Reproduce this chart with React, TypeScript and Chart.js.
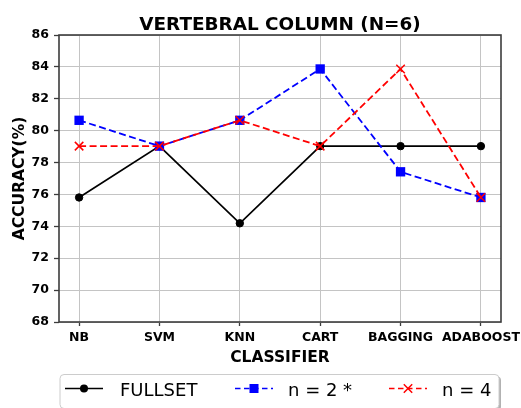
import React, { useEffect, useRef } from 'react';
import { Chart, registerables } from 'chart.js';

Chart.register(...registerables);

const categories = ['NB', 'SVM', 'KNN', 'CART', 'BAGGING', 'ADABOOST'];
const fullsetValues = [75.81, 79.03, 74.19, 79.03, 79.03, 79.03];
const n2Values = [80.65, 79.03, 80.65, 83.87, 77.42, 75.81];
const n4Values = [79.03, 79.03, 80.65, 79.03, 83.87, 75.81];
const seriesLabels = ['FULLSET', 'n = 2 *', 'n = 4'];
const yMin = 68;
const yMax = 86;
const yStep = 2;
const chartTitle = 'VERTEBRAL COLUMN (N=6)';
const xAxisTitle = 'CLASSIFIER';
const yAxisTitle = 'ACCURACY(%)';

const FONT = '"DejaVu Sans", "Liberation Sans", sans-serif';
const DASH = [7, 3.5];

const decorPlugin = {
  id: 'decor',
  afterDatasetsDraw(chart: any) {
    const { ctx, chartArea: a } = chart;
    ctx.save();
    ctx.strokeStyle = '#3c3c3c';
    ctx.lineWidth = 1.6;
    ctx.strokeRect(a.left, a.top, a.right - a.left, a.bottom - a.top);
    ctx.restore();
  },
  afterDraw(chart: any) {
    const { ctx, chartArea: a } = chart;
    const cx = (a.left + a.right) / 2;
    ctx.save();
    ctx.fillStyle = '#000';
    // title
    ctx.font = `bold 18.4px ${FONT}`;
    ctx.textAlign = 'center';
    ctx.textBaseline = 'alphabetic';
    ctx.fillText(chartTitle, cx, 29.5);
    // x axis title
    ctx.font = `bold 15.5px ${FONT}`;
    ctx.fillText(xAxisTitle, cx, 361.5);
    // y axis title
    ctx.save();
    ctx.translate(23.5, (a.top + a.bottom) / 2);
    ctx.rotate(-Math.PI / 2);
    ctx.fillText(yAxisTitle, 0, 0);
    ctx.restore();

    // legend
    const lx = 60, ly = 374.5, lw = 439, lh = 34, r = 4;
    const rr = (x: number, y: number, w: number, h: number) => {
      ctx.beginPath();
      ctx.moveTo(x + r, y);
      ctx.lineTo(x + w - r, y);
      ctx.arcTo(x + w, y, x + w, y + r, r);
      ctx.lineTo(x + w, y + h - r);
      ctx.arcTo(x + w, y + h, x + w - r, y + h, r);
      ctx.lineTo(x + r, y + h);
      ctx.arcTo(x, y + h, x, y + h - r, r);
      ctx.lineTo(x, y + r);
      ctx.arcTo(x, y, x + r, y, r);
      ctx.closePath();
    };
    ctx.fillStyle = 'rgba(0,0,0,0.3)';
    rr(lx + 2, ly + 2, lw, lh);
    ctx.fill();
    ctx.fillStyle = '#fff';
    rr(lx, ly, lw, lh);
    ctx.fill();
    ctx.strokeStyle = '#cccccc';
    ctx.lineWidth = 1;
    ctx.stroke();

    const my = 388.5;
    const entries = [
      { x0: 65, x1: 103, color: '#000000', dash: [] as number[], marker: 'circle', tx: 120 },
      { x0: 235, x1: 273, color: '#0000ff', dash: [5.5, 3.5], marker: 'square', tx: 288 },
      { x0: 389, x1: 427, color: '#ff0000', dash: [5.5, 3.5], marker: 'x', tx: 442 },
    ];
    entries.forEach((e, i) => {
      ctx.save();
      ctx.strokeStyle = e.color;
      ctx.lineWidth = 1.7;
      ctx.setLineDash(e.dash);
      ctx.beginPath();
      ctx.moveTo(e.x0, my);
      ctx.lineTo(e.x1, my);
      ctx.stroke();
      ctx.setLineDash([]);
      const mx = (e.x0 + e.x1) / 2;
      ctx.fillStyle = e.color;
      if (e.marker === 'circle') {
        ctx.beginPath();
        ctx.arc(mx, my, 4, 0, Math.PI * 2);
        ctx.fill();
      } else if (e.marker === 'square') {
        ctx.fillRect(mx - 4.5, my - 4.5, 9, 9);
      } else {
        ctx.lineWidth = 1.5;
        ctx.beginPath();
        ctx.moveTo(mx - 4.2, my - 4.2);
        ctx.lineTo(mx + 4.2, my + 4.2);
        ctx.moveTo(mx + 4.2, my - 4.2);
        ctx.lineTo(mx - 4.2, my + 4.2);
        ctx.stroke();
      }
      ctx.fillStyle = '#000';
      ctx.font = `18px ${FONT}`;
      ctx.textAlign = 'left';
      ctx.textBaseline = 'alphabetic';
      ctx.fillText(seriesLabels[i], e.tx, 395.5);
      ctx.restore();
    });
    ctx.restore();
  },
};

const toPoints = (vals: number[]) => vals.map((v, i) => ({ x: i, y: v }));

export default function App() {
  const ref = useRef<HTMLCanvasElement | null>(null);
  useEffect(() => {
    document.body.style.margin = '0';
    const canvas = ref.current!;
    const tickFont = { family: FONT, size: 12.5, weight: 'bold' as const };
    const chart = new Chart(canvas, {
      type: 'line',
      data: {
        datasets: [
          {
            label: seriesLabels[0],
            data: toPoints(fullsetValues),
            borderColor: '#000000',
            backgroundColor: '#000000',
            borderWidth: 1.7,
            pointStyle: 'circle',
            pointRadius: 3.7,
            pointBorderWidth: 1,
            pointBorderColor: '#000000',
            pointBackgroundColor: '#000000',
            tension: 0,
            order: 2,
          },
          {
            label: seriesLabels[1],
            data: toPoints(n2Values),
            borderColor: '#0000ff',
            backgroundColor: '#0000ff',
            borderWidth: 1.8,
            borderDash: DASH,
            pointStyle: 'rect',
            pointRadius: 6.6,
            pointBorderWidth: 0,
            pointBackgroundColor: '#0000ff',
            tension: 0,
            order: 1,
          },
          {
            label: seriesLabels[2],
            data: toPoints(n4Values),
            borderColor: '#ff0000',
            backgroundColor: '#ff0000',
            borderWidth: 1.8,
            borderDash: DASH,
            pointStyle: 'crossRot',
            pointRadius: 6,
            pointBorderWidth: 1.5,
            pointBorderColor: '#ff0000',
            tension: 0,
            order: 0,
          },
        ],
      },
      options: {
        responsive: false,
        animation: false,
        events: [],
        layout: { padding: { left: 0, right: 20, top: 35, bottom: 0 } },
        plugins: {
          legend: { display: false },
          title: { display: false },
          tooltip: { enabled: false },
        },
        scales: {
          x: {
            type: 'linear',
            min: -0.25,
            max: categories.length - 0.75,
            afterBuildTicks: (scale: any) => {
              scale.ticks = categories.map((_, i) => ({ value: i }));
            },
            afterFit: (scale: any) => {
              scale.height = 86;
              scale.paddingLeft = 0;
              scale.paddingRight = 0;
              scale.paddingTop = 0;
              scale.paddingBottom = 0;
            },
            border: { display: false },
            grid: {
              color: '#c4c4c4',
              lineWidth: 1,
              tickColor: '#3c3c3c',
              tickLength: 4,
              tickWidth: 1.3,
            },
            ticks: {
              autoSkip: false,
              maxRotation: 0,
              minRotation: 0,
              padding: 4.5,
              color: '#000',
              font: tickFont,
              callback: (v: any) => categories[v as number] ?? '',
            },
          },
          y: {
            type: 'linear',
            min: yMin,
            max: yMax,
            afterFit: (scale: any) => {
              scale.width = 59;
              scale.paddingLeft = 0;
              scale.paddingRight = 0;
              scale.paddingTop = 0;
              scale.paddingBottom = 0;
            },
            border: { display: false },
            grid: {
              color: '#c4c4c4',
              lineWidth: 1,
              tickColor: '#3c3c3c',
              tickLength: 5,
              tickWidth: 1.3,
            },
            ticks: {
              stepSize: yStep,
              padding: 5,
              color: '#000',
              font: tickFont,
            },
          },
        },
      },
      plugins: [decorPlugin],
    } as any);
    return () => chart.destroy();
  }, []);
  return (
    <div style={{ position: 'absolute', left: 0, top: 0, width: 521, height: 408, background: '#fff' }}>
      <canvas ref={ref} width={521} height={408} />
    </div>
  );
}
